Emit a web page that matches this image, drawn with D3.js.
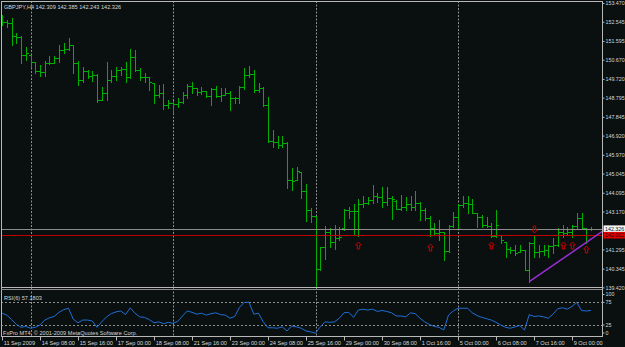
<!DOCTYPE html>
<html><head><meta charset="utf-8">
<script src="https://cdn.jsdelivr.net/npm/d3@7"></script>
<style>
body{margin:0;background:#0a0f0f;overflow:hidden}
svg{display:block}
text{font-family:"Liberation Sans",Arial,sans-serif}
</style>
</head><body>
<svg id="c" width="625" height="347"></svg>
<script>
const chartTitle = "GBPJPY,H4 142.309 142.385 142.243 142.326";
const rsiTitle = "RSI(6) 57.1803";
const copyright = "FxPro MT4, © 2001-2009 MetaQuotes Software Corp.";

const timeLabels = ["11 Sep 2009","14 Sep 08:00","15 Sep 16:00","17 Sep 00:00","18 Sep 08:00","21 Sep 16:00","23 Sep 00:00","24 Sep 08:00","25 Sep 16:00","29 Sep 00:00","30 Sep 08:00","1 Oct 16:00","5 Oct 00:00","6 Oct 08:00","7 Oct 16:00","9 Oct 00:00"];
const timeLabelBars = [0,8,16,24,32,40,48,56,64,72,80,88,96,104,112,120];
const gridBars = [6,36,66,96];

const priceTicks = [153.470,152.545,151.595,150.670,149.720,148.795,147.845,146.920,145.970,145.045,144.095,143.170,141.295,140.345,139.420];
const rsiTicks = [100,75,25,0];
const rsiLevels = [75,25];

const bidPrice = 142.326;
const hLinePrice = 142.002;

const barOpen = [152.83,152.53,152.50,151.84,151.80,150.90,150.90,150.56,150.11,150.06,
150.51,150.52,150.75,151.15,151.20,151.40,150.51,149.67,150.11,149.87,
149.92,148.68,149.03,149.67,149.87,150.16,150.20,149.82,150.80,150.16,
149.82,149.80,149.50,148.93,149.03,148.43,148.53,148.48,148.58,148.93,
149.37,149.27,149.07,149.10,148.88,149.22,148.88,148.93,149.03,148.78,
148.80,149.32,149.92,149.96,149.17,149.27,148.43,146.65,146.61,146.46,
146.56,144.73,144.75,145.10,144.18,143.25,142.95,140.33,141.42,142.16,
141.67,141.86,142.36,143.25,143.20,143.18,143.54,143.60,143.74,143.94,
143.90,143.64,143.84,143.70,143.30,143.39,143.54,143.39,143.59,143.25,
142.85,142.36,142.11,142.16,141.22,142.46,142.90,143.49,143.60,143.54,
143.10,142.90,142.50,142.45,141.96,142.00,141.65,141.32,141.27,141.18,
141.27,140.30,141.62,141.17,141.20,141.27,141.47,141.52,142.16,142.11,
142.16,142.46,142.85,142.36,142.309];

const barHigh = [152.88,152.63,152.73,151.99,151.84,151.30,150.90,150.56,150.41,150.61,
150.85,150.85,151.40,151.50,151.74,151.40,150.61,150.31,150.16,150.11,
149.96,149.32,150.56,150.16,150.31,150.31,150.56,151.20,151.15,150.26,
150.01,149.82,149.52,149.42,149.47,148.68,148.63,148.78,149.07,149.47,
149.57,149.27,149.32,149.12,149.27,149.37,149.27,149.27,149.12,148.83,
149.37,150.26,150.36,150.16,149.52,149.32,148.83,147.20,146.90,146.90,
146.61,145.32,145.37,145.12,144.53,143.35,142.95,141.42,142.46,142.36,
142.50,142.41,143.30,143.39,143.54,143.79,143.94,143.89,144.48,144.08,
144.38,144.38,143.94,143.74,143.99,143.89,143.94,144.18,143.64,143.35,
142.95,142.60,142.75,142.16,142.50,143.15,143.54,143.94,143.94,143.79,
143.10,143.00,142.90,142.60,143.25,142.01,141.67,141.42,141.52,141.52,
141.27,141.67,141.96,141.52,141.52,141.52,141.86,142.36,142.50,142.41,
142.50,143.10,143.10,142.36,142.385];

const barLow = [152.39,152.29,151.40,151.50,150.51,150.66,150.31,150.01,149.87,149.87,
150.46,150.51,150.56,151.00,151.15,150.01,149.42,149.57,149.77,149.62,
148.58,148.68,148.68,149.57,149.67,149.92,149.57,149.77,150.11,149.67,
149.57,149.17,148.53,148.83,148.24,148.28,148.04,148.33,148.53,148.78,
149.03,148.93,148.98,148.83,148.43,148.83,148.63,148.93,148.19,148.53,
148.53,149.22,149.82,149.07,149.07,148.38,146.61,146.36,146.31,146.36,
144.33,144.23,144.73,143.84,142.70,142.65,139.44,140.28,140.83,141.42,
141.32,141.76,142.26,142.85,142.06,141.96,143.39,143.54,143.59,143.64,
143.39,143.49,142.80,143.30,143.25,143.25,143.25,143.25,142.75,142.75,
141.96,142.01,141.76,140.78,141.17,142.41,142.36,143.39,143.10,143.10,
142.41,142.41,142.41,141.92,141.92,141.62,140.92,141.12,141.02,141.17,
140.28,139.69,140.92,140.92,141.02,140.92,141.12,141.47,141.92,142.01,
141.92,142.36,142.31,141.62,142.243];

const barClose = [152.53,152.50,151.84,151.80,150.90,151.00,150.56,150.11,150.06,150.51,
150.50,150.75,151.15,151.20,151.40,150.51,149.67,150.11,149.87,149.92,
148.68,149.03,149.67,149.87,150.16,150.20,149.82,150.80,150.16,149.82,
149.80,149.57,148.93,149.03,148.43,148.53,148.48,148.58,148.93,149.37,
149.27,149.07,149.10,148.88,149.22,148.88,148.93,149.03,148.78,148.80,
149.32,149.92,149.96,149.17,149.27,148.43,146.65,146.61,146.46,146.56,
144.73,144.70,145.17,144.18,143.25,142.95,140.33,141.42,142.16,141.67,
141.86,141.90,143.25,143.20,143.18,143.54,143.60,143.74,143.94,143.90,
143.64,143.84,143.80,143.30,143.39,143.54,143.39,143.59,143.25,142.85,
142.36,142.11,142.16,141.22,142.46,142.90,143.49,143.60,143.54,143.10,
142.90,142.50,142.45,141.96,142.50,141.76,141.32,141.27,141.12,141.27,
140.30,141.62,141.17,141.20,141.27,141.47,141.52,142.16,142.11,142.16,
142.46,142.85,142.36,142.31,142.326];

const rsiValues = [51,47,37,27,20,22,18,20,25,36,41,44,53,59,62,38,30,36,36,34,
20,32,43,50,54,56,48,63,51,43,42,37,30,32,28,31,29,33,45,56,
53,49,51,47,50,52,48,47,40,44,64,75,75,49,51,32,19,19,18,21,
12,23,21,18,12,10,7,21,32,31,32,40,52,53,42,58,60,58,60,55,
57,55,52,45,45,43,52,50,40,32,26,22,20,14,47,56,62,62,62,52,
46,42,39,36,31,25,20,18,21,24,14,48,44,45,43,40,49,61,63,60,
66,75,57,56,57.18];

const upArrowBars = [75,90,103,118,120,123];
const upArrowPrices = [141.52,141.42,141.52,141.52,141.52,141.32];
const downArrowBars = [112];
const downArrowPrices = [142.31];

const trendBars = [111,124];
const trendPrices = [139.70,141.80];

// ---------- drawing ----------
const W = 625, H = 347;
const svg = d3.select("#c");
const BG = "#0a0f0f", FRAME = "#b8b8b8", TXT = "#d8d8d8", FS = "5.3px";
svg.append("rect").attr("width", W).attr("height", H).attr("fill", BG);

const plotLeft = 1, plotRight = 602.5, mainTop = 1, mainBottom = 287.5, rsiTop = 289.5, rsiBottom = 336.5;

const x = d3.scaleLinear().domain([0, 124]).range([2, 591]);
const y = d3.scaleLinear().domain([139.42, 153.47]).range([287.4, 3]);
const yr = d3.scaleLinear().domain([0, 100]).range([336.4, 291]);
const ri = v => Math.round(v);

const defs = svg.append("defs");
defs.append("clipPath").attr("id", "mainClip").append("rect")
  .attr("x", plotLeft).attr("y", mainTop).attr("width", plotRight - plotLeft).attr("height", mainBottom - mainTop);
defs.append("clipPath").attr("id", "rsiClip").append("rect")
  .attr("x", plotLeft).attr("y", rsiTop).attr("width", plotRight - plotLeft).attr("height", rsiBottom - rsiTop);

// vertical grid lines
svg.append("g").selectAll("line").data(gridBars).join("line")
  .attr("x1", d => ri(x(d)) + 0.5).attr("x2", d => ri(x(d)) + 0.5)
  .attr("y1", mainTop).attr("y2", rsiBottom)
  .attr("stroke", "#8e8e8e").attr("stroke-width", 1).attr("stroke-dasharray", "2,1.5");

// RSI level lines
svg.append("g").selectAll("line").data(rsiLevels).join("line")
  .attr("x1", plotLeft).attr("x2", plotRight)
  .attr("y1", d => ri(yr(d)) + 0.5).attr("y2", d => ri(yr(d)) + 0.5)
  .attr("stroke", "#8e8e8e").attr("stroke-width", 1).attr("stroke-dasharray", "2,2");

// OHLC bars
const bars = barOpen.map((o, i) => ({i, o, h: barHigh[i], l: barLow[i], c: barClose[i]}));
const gBars = svg.append("g").attr("clip-path", "url(#mainClip)")
  .attr("stroke", "#00b000").attr("stroke-width", 1);
const bg = gBars.selectAll("g").data(bars).join("g");
bg.append("line")
  .attr("x1", d => ri(x(d.i)) + 0.5).attr("x2", d => ri(x(d.i)) + 0.5)
  .attr("y1", d => ri(y(d.h))).attr("y2", d => ri(y(d.l)) + 1);
bg.append("line")
  .attr("x1", d => ri(x(d.i)) - 2).attr("x2", d => ri(x(d.i)))
  .attr("y1", d => ri(y(d.o)) + 0.5).attr("y2", d => ri(y(d.o)) + 0.5);
bg.append("line")
  .attr("x1", d => ri(x(d.i)) + 1).attr("x2", d => ri(x(d.i)) + 3)
  .attr("y1", d => ri(y(d.c)) + 0.5).attr("y2", d => ri(y(d.c)) + 0.5);

// horizontal lines: bid & user line
svg.append("line").attr("x1", plotLeft).attr("x2", plotRight)
  .attr("y1", ri(y(bidPrice)) + 0.5).attr("y2", ri(y(bidPrice)) + 0.5)
  .attr("stroke", "#8c8c8c").attr("stroke-width", 1);
svg.append("line").attr("x1", plotLeft).attr("x2", plotRight)
  .attr("y1", ri(y(hLinePrice)) + 0.5).attr("y2", ri(y(hLinePrice)) + 0.5)
  .attr("stroke", "#c00000").attr("stroke-width", 1);

// trend line (ray)
const tSlope = (trendPrices[1] - trendPrices[0]) / (trendBars[1] - trendBars[0]);
const tEndBar = x.invert(plotRight + 4);
svg.append("g").attr("clip-path", "url(#mainClip)").append("line")
  .attr("x1", x(trendBars[0])).attr("y1", y(trendPrices[0]))
  .attr("x2", x(tEndBar)).attr("y2", y(trendPrices[0] + tSlope * (tEndBar - trendBars[0])))
  .attr("stroke", "#9b2fd6").attr("stroke-width", 1.5);

// arrows
const upPath = "M0,-3.5 L2.8,-0.5 L1.2,-0.5 L1.2,3.5 L-1.2,3.5 L-1.2,-0.5 L-2.8,-0.5 Z";
const gArr = svg.append("g").attr("fill", "none").attr("stroke", "#c80000").attr("stroke-width", 1);
gArr.selectAll("path.up").data(upArrowBars.map((b, k) => ({b, p: upArrowPrices[k]}))).join("path")
  .attr("class", "up").attr("d", upPath)
  .attr("transform", d => `translate(${ri(x(d.b)) + 0.5},${ri(y(d.p)) + 0.5})`);
gArr.selectAll("path.dn").data(downArrowBars.map((b, k) => ({b, p: downArrowPrices[k]}))).join("path")
  .attr("class", "dn").attr("d", upPath)
  .attr("transform", d => `translate(${ri(x(d.b)) + 0.5},${ri(y(d.p)) + 0.5}) scale(1,-1)`);

// RSI line
svg.append("g").attr("clip-path", "url(#rsiClip)").append("path")
  .datum(rsiValues)
  .attr("d", d3.line().x((v, i) => x(i)).y(v => yr(v)))
  .attr("fill", "none").attr("stroke", "#1f6fd8").attr("stroke-width", 1);

// frame lines
const frame = svg.append("g").attr("stroke", FRAME).attr("stroke-width", 1);
frame.append("line").attr("x1", 1).attr("x2", plotRight).attr("y1", 1.5).attr("y2", 1.5);
frame.append("line").attr("x1", 1.5).attr("x2", 1.5).attr("y1", 1).attr("y2", rsiBottom);
frame.append("line").attr("x1", 1).attr("x2", plotRight).attr("y1", mainBottom).attr("y2", mainBottom);
frame.append("line").attr("x1", 1).attr("x2", plotRight).attr("y1", rsiTop).attr("y2", rsiTop).attr("stroke", "#8a8a8a");
frame.append("line").attr("x1", 1).attr("x2", plotRight).attr("y1", rsiBottom).attr("y2", rsiBottom);
frame.append("line").attr("x1", plotRight).attr("x2", plotRight).attr("y1", 1).attr("y2", rsiBottom + 0.5);

// price axis
const fmt3 = d3.format(".3f");
const pAxis = svg.append("g").attr("transform", `translate(${plotRight},0)`)
  .call(d3.axisRight(y).tickValues(priceTicks).tickSize(2).tickPadding(1).tickFormat(fmt3));
pAxis.select(".domain").remove();
pAxis.selectAll("line").attr("stroke", FRAME);
pAxis.selectAll("text").attr("fill", TXT).attr("font-size", FS).attr("font-family", "Liberation Sans, Arial, sans-serif");

// RSI axis
const rAxis = svg.append("g").attr("transform", `translate(${plotRight},0)`)
  .call(d3.axisRight(yr).tickValues(rsiTicks).tickSize(2).tickPadding(1).tickFormat(d3.format("d")));
rAxis.select(".domain").remove();
rAxis.selectAll(".tick").attr("transform", d => `translate(0,${Math.max(294.5, Math.min(333, yr(d)))})`);
rAxis.selectAll("line").attr("stroke", FRAME);
rAxis.selectAll("text").attr("fill", TXT).attr("font-size", FS).attr("font-family", "Liberation Sans, Arial, sans-serif");

// current price labels
function priceTag(p, bgc, tc) {
  const yy = y(p);
  svg.append("rect").attr("x", plotRight + 1).attr("y", yy - 3.2).attr("width", W - plotRight).attr("height", 6.6).attr("fill", bgc);
  svg.append("text").attr("x", plotRight + 2.5).attr("y", yy + 2).attr("fill", tc)
    .attr("font-size", FS).text(fmt3(p));
}
priceTag(bidPrice, "#f4f4f4", "#101010");
priceTag(hLinePrice, "#e00000", "#300000");

// time axis
const tAxis = svg.append("g").attr("transform", `translate(0,${rsiBottom})`)
  .call(d3.axisBottom(x).tickValues(timeLabelBars).tickSize(4).tickPadding(1)
    .tickFormat((d, k) => timeLabels[k]));
tAxis.select(".domain").remove();
tAxis.selectAll("line").attr("stroke", FRAME);
tAxis.selectAll("text").attr("fill", TXT).attr("font-size", "5.6px").attr("text-anchor", "start")
  .attr("x", 1.2).attr("dy", "0.55em").attr("font-family", "Liberation Sans, Arial, sans-serif");

// titles
svg.append("text").attr("x", 4).attr("y", 9).attr("fill", TXT).attr("font-size", "5.6px").text(chartTitle);
svg.append("text").attr("x", 4).attr("y", 299.5).attr("fill", TXT).attr("font-size", "5.6px").text(rsiTitle);
svg.append("text").attr("x", 3).attr("y", 334.5).attr("fill", TXT).attr("font-size", "5.6px").text(copyright);
</script>
</body></html>
